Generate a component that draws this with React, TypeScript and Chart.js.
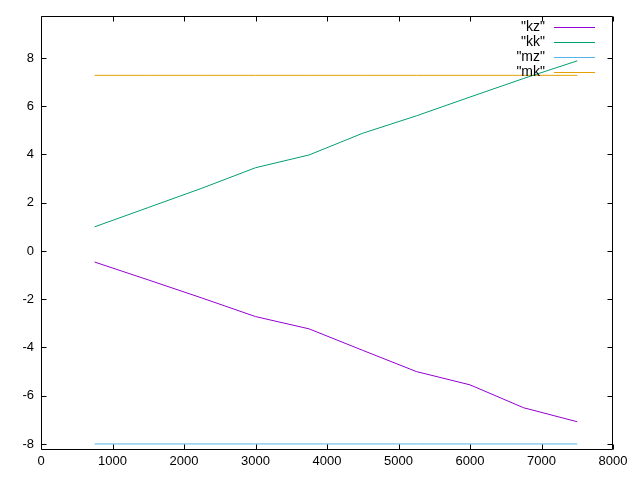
import React, { useEffect, useRef } from "react";
import { Chart, registerables } from "chart.js";

Chart.register(...registerables);

const xValues = [750, 1500, 2250, 3000, 3750, 4500, 5250, 6000, 6750, 7500];
const kz = [-0.46, -1.2, -1.95, -2.72, -3.23, -4.12, -5.0, -5.55, -6.5, -7.08];
const kk = [1.0, 1.8, 2.6, 3.45, 3.98, 4.88, 5.6, 6.38, 7.15, 7.88];
const mz = [-8, -8, -8, -8, -8, -8, -8, -8, -8, -8];
const mk = [7.28, 7.28, 7.28, 7.28, 7.28, 7.28, 7.28, 7.28, 7.28, 7.28];
const seriesLabels = ['"kz"', '"kk"', '"mz"', '"mk"'];
const seriesColors = ["#9400d3", "#009e73", "#56b4e9", "#e69f00"];
const xTicks = [0, 1000, 2000, 3000, 4000, 5000, 6000, 7000, 8000];
const yTicks = [-8, -6, -4, -2, 0, 2, 4, 6, 8];

const FONT = "'Liberation Sans', Arial, sans-serif";

const framePlugin = {
  id: "gnuFrame",
  afterDraw(chart: any) {
    const ctx = chart.ctx;
    const { left, right, top, bottom } = chart.chartArea;
    const xs = chart.scales.x;
    const ys = chart.scales.y;
    ctx.save();
    ctx.strokeStyle = "#000";
    ctx.lineWidth = 1;
    const L = Math.round(left) + 0.5;
    const R = Math.round(right) - 0.5;
    const T = Math.round(top) + 0.5;
    const B = Math.round(bottom) - 0.5;
    ctx.beginPath();
    ctx.rect(L, T, R - L, B - T);
    const tl = 5;
    for (const v of xTicks) {
      const px = Math.round(xs.getPixelForValue(v)) + 0.5;
      ctx.moveTo(px, B);
      ctx.lineTo(px, B - tl);
      ctx.moveTo(px, T);
      ctx.lineTo(px, T + tl);
    }
    for (const v of yTicks) {
      const py = Math.round(ys.getPixelForValue(v)) + 0.5;
      ctx.moveTo(L, py);
      ctx.lineTo(L + tl, py);
      ctx.moveTo(R, py);
      ctx.lineTo(R - tl, py);
    }
    ctx.stroke();

    // legend (gnuplot-style, inside top-right)
    ctx.font = `14px ${FONT}`;
    ctx.textAlign = "right";
    ctx.textBaseline = "alphabetic";
    seriesLabels.forEach((label, i) => {
      const ly = Math.round(27 + 15.1 * i) + 0.5;
      ctx.fillStyle = "#000";
      ctx.fillText(label, 545, ly + 3);
      ctx.strokeStyle = seriesColors[i];
      ctx.lineWidth = 1;
      ctx.beginPath();
      ctx.moveTo(554, ly);
      ctx.lineTo(595, ly);
      ctx.stroke();
    });
    ctx.restore();
  },
};

export default function App() {
  const ref = useRef<HTMLCanvasElement | null>(null);
  useEffect(() => {
    document.body.style.margin = "0";
    const series = [kz, kk, mz, mk];
    const chart = new Chart(ref.current as HTMLCanvasElement, {
      type: "line",
      data: {
        datasets: series.map((s, i) => ({
          label: seriesLabels[i],
          data: xValues.map((x, j) => ({ x, y: s[j] })),
          borderColor: seriesColors[i],
          backgroundColor: seriesColors[i],
          borderWidth: 1,
          pointRadius: 0,
          tension: 0,
          fill: false,
        })),
      },
      options: {
        animation: false,
        responsive: false,
        maintainAspectRatio: false,
        layout: { padding: { top: 15.5, right: 27, left: 0, bottom: 0 } },
        plugins: { legend: { display: false }, tooltip: { enabled: false } },
        scales: {
          x: {
            type: "linear",
            min: 0,
            max: 8000,
            grid: { display: false, drawTicks: false },
            border: { display: false },
            afterBuildTicks: (axis: any) => {
              axis.ticks = xTicks.map((v) => ({ value: v }));
            },
            afterFit: (axis: any) => {
              axis.height = 30.5;
            },
            ticks: {
              color: "#000",
              padding: 4,
              maxRotation: 0,
              autoSkip: false,
              font: { family: FONT, size: 13 },
              callback: (v: any) => String(v),
            },
          },
          y: {
            type: "linear",
            min: -8.23,
            max: 9.76,
            grid: { display: false, drawTicks: false },
            border: { display: false },
            afterBuildTicks: (axis: any) => {
              axis.ticks = yTicks.map((v) => ({ value: v }));
            },
            afterFit: (axis: any) => {
              axis.width = 41;
            },
            ticks: {
              color: "#000",
              padding: 7,
              autoSkip: false,
              font: { family: FONT, size: 13 },
              callback: (v: any) => String(v),
            },
          },
        },
      },
      plugins: [framePlugin],
    });
    return () => chart.destroy();
  }, []);
  return (
    <div style={{ position: "absolute", left: 0, top: 0, width: 640, height: 480, background: "#fff" }}>
      <canvas ref={ref} width={640} height={480} style={{ width: 640, height: 480 }} />
    </div>
  );
}
